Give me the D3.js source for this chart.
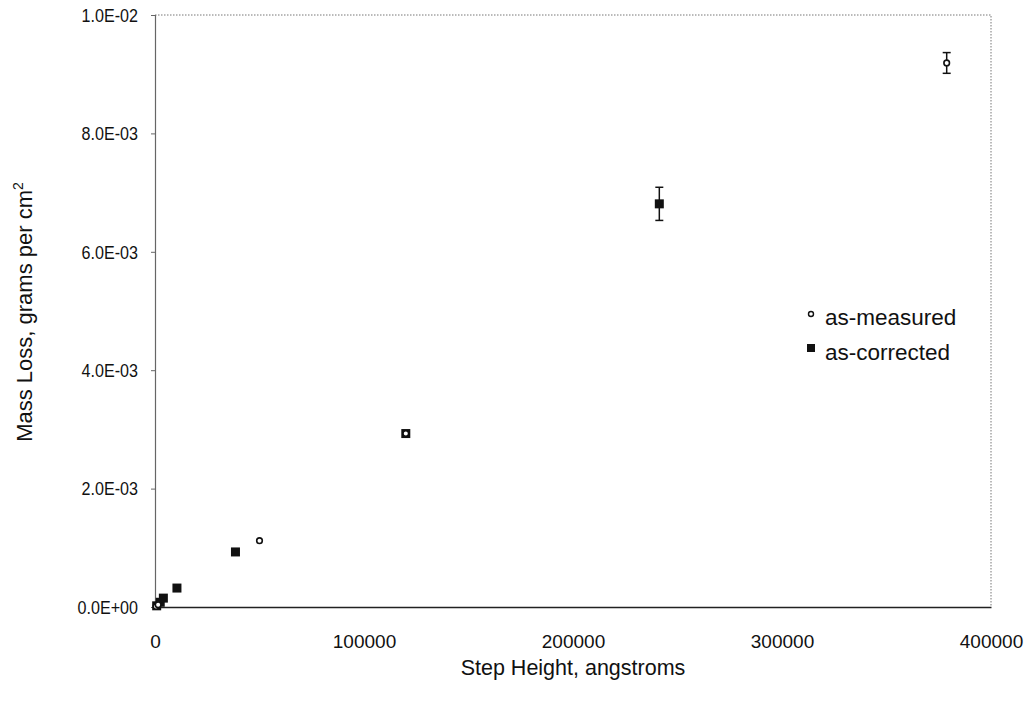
<!DOCTYPE html>
<html><head><meta charset="utf-8">
<script src="https://cdn.jsdelivr.net/npm/d3@7"></script>
<style>body{margin:0;background:#fff}svg text{font-family:"Liberation Sans",Arial,sans-serif;fill:#111}</style>
</head><body><svg id="c" width="1034" height="708"></svg>
<script>
const xTicks = [0, 100000, 200000, 300000, 400000];
const xTickLabels = ["0", "100000", "200000", "300000", "400000"];
const yTicks = [0, 0.002, 0.004, 0.006, 0.008, 0.010];
const yTickLabels = ["0.0E+00", "2.0E-03", "4.0E-03", "6.0E-03", "8.0E-03", "1.0E-02"];
const correctedX = [800, 2500, 4000, 10500, 38500, 120000, 241300];
const correctedY = [0.00002, 0.00008, 0.00015, 0.00032, 0.00093, 0.00293, 0.00681];
const correctedErr = [0, 0, 0, 0, 0, 0, 0.00028];
const measuredX = [500, 1500, 50000, 120000, 378800];
const measuredY = [0.00001, 0.00004, 0.00112, 0.00293, 0.00919];
const measuredErr = [0, 0, 0, 0, 0.000175];
const seriesNames = ["as-measured", "as-corrected"];

const svg = d3.select("#c");
const L = 155, R = 991, T = 15, B = 607;
const x = d3.scaleLinear().domain([0, 400000]).range([L, R]);
const y = d3.scaleLinear().domain([0, 0.01]).range([B, T]);

// border (dotted top/right)
svg.append("path").attr("d", `M${L},${T}H${R}V${B}`).attr("fill","none")
  .attr("stroke","#777").attr("stroke-width",1).attr("stroke-dasharray","1.5,1.5");

// y axis
const ya = svg.append("g").attr("transform", `translate(${L},0)`)
  .call(d3.axisLeft(y).tickValues(yTicks).tickFormat((d,i)=>yTickLabels[i]).tickSize(4).tickPadding(13));
ya.select(".domain").attr("stroke","#666").attr("stroke-width",1.2);
ya.selectAll(".tick line").attr("stroke","#666");
ya.selectAll("text").style("font-size","17.5px").attr("dy","0.36em")
  .each(function(){ const w = this.getComputedTextLength(); d3.select(this).attr("textLength", w*0.92).attr("lengthAdjust","spacingAndGlyphs"); });

// x axis
const xa = svg.append("g").attr("transform", `translate(0,${B})`)
  .call(d3.axisBottom(x).tickValues(xTicks).tickFormat((d,i)=>xTickLabels[i]).tickSize(0).tickPadding(28));
xa.select(".domain").attr("stroke","#222").attr("stroke-width",1.5);
xa.selectAll("text").style("font-size","19px");

// axis titles
svg.append("text").attr("x", 573).attr("y", 675).attr("text-anchor","middle")
  .style("font-size","21.5px").text("Step Height, angstroms");
const yt = svg.append("text").attr("transform","translate(32,312) rotate(-90)").attr("text-anchor","middle")
  .style("font-size","22px");
yt.append("tspan").text("Mass Loss, grams per cm");
yt.append("tspan").attr("dy","-9").style("font-size","14px").text("2");

// error bars
function errBars(xs, ys, es){
  const g = svg.append("g").attr("stroke","#111").attr("stroke-width",1.5);
  xs.forEach((xv,i)=>{
    if(!es[i]) return;
    const cx = x(xv), y1 = y(ys[i]+es[i]), y2 = y(ys[i]-es[i]);
    g.append("line").attr("x1",cx).attr("x2",cx).attr("y1",y1).attr("y2",y2);
    g.append("line").attr("x1",cx-4).attr("x2",cx+4).attr("y1",y1).attr("y2",y1);
    g.append("line").attr("x1",cx-4).attr("x2",cx+4).attr("y1",y2).attr("y2",y2);
  });
}
errBars(correctedX, correctedY, correctedErr);
errBars(measuredX, measuredY, measuredErr);

// corrected squares
svg.append("g").selectAll("rect").data(correctedX).join("rect")
  .attr("x",(d)=>x(d)-4.5).attr("y",(d,i)=>y(correctedY[i])-4.5)
  .attr("width",9).attr("height",9).attr("fill","#111");
// measured open circles
svg.append("g").selectAll("circle").data(measuredX).join("circle")
  .attr("cx",d=>x(d)).attr("cy",(d,i)=>y(measuredY[i])).attr("r",2.8)
  .attr("fill","#fff").attr("stroke","#111").attr("stroke-width",1.6);

// legend
const lg = svg.append("g");
lg.append("circle").attr("cx",811).attr("cy",314).attr("r",2.5).attr("fill","#fff").attr("stroke","#111").attr("stroke-width",1.4);
lg.append("text").attr("x",825).attr("y",325).style("font-size","22.5px").text(seriesNames[0]);
lg.append("rect").attr("x",807).attr("y",344).attr("width",8).attr("height",8).attr("fill","#111");
lg.append("text").attr("x",825).attr("y",360).style("font-size","22.5px").text(seriesNames[1]);
</script></body></html>
